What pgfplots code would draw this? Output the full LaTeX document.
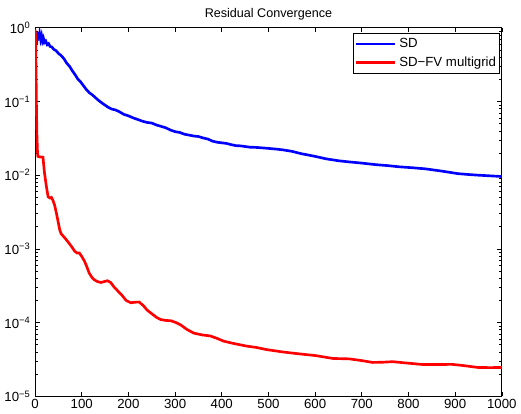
\documentclass[border=0pt]{standalone}
\usepackage{pgfplots}
\pgfplotsset{compat=1.18}
\usepackage{fontspec}
\setmainfont{Liberation Sans}

\begin{document}
\begin{tikzpicture}
  \begin{semilogyaxis}[
    scale only axis,
    width=352.5pt, height=278.25pt,
    xmin=0, xmax=1000, ymin=1e-5, ymax=1,
    xtick={0,100,...,1000},
    ytick={1e-5,1e-4,1e-3,1e-2,1e-1,1},
    yticklabels={10\textsuperscript{−5},10\textsuperscript{−4},10\textsuperscript{−3},10\textsuperscript{−2},10\textsuperscript{−1},10\textsuperscript{0}},
    /pgf/number format/assume math mode=true,
    /pgf/number format/1000 sep={},
    tick label style={font=\fontsize{10}{12}\selectfont},
    xticklabel style={yshift=1pt},
    title={Residual Convergence},
    title style={font=\fontsize{9.5}{11}\selectfont, yshift=-4pt},
    axis line style={line width=0.6pt},
    major tick length=3.5pt, minor tick length=2pt,
    every tick/.style={black, line width=0.5pt},
    legend cell align=left,
    legend style={at={(0.9955,0.987)}, anchor=north east,
      font=\fontsize{10}{12}\selectfont, draw=black, line width=0.6pt,
      inner xsep=0.5pt, inner ysep=2pt, row sep=1.5pt},
    legend image code/.code={\draw[#1] (0cm,0cm) -- (1.05cm,0cm);},
  ]
    \coordinate (topleft) at (rel axis cs:0,1);
    \addplot[blue, line width=2pt] coordinates {
      (1,0.55)(2,0.80)(3,0.60)(4,0.86)(5,0.66)(6,0.88)(7,0.70)(8,0.85)
      (9,0.72)(10,0.82)(12,0.69)(14,0.78)(16,0.66)(18,0.72)(20,0.63)
      (23,0.66)(26,0.59)(29,0.61)(32,0.56)(36,0.55)(40,0.51)(45,0.49)
      (50,0.45)(56,0.42)(62,0.38)(68,0.33)(74,0.30)(80,0.26)(86,0.23)
      (92,0.20)(98,0.183)(104,0.163)(110,0.145)(116,0.132)(122,0.124)
      (128,0.115)(134,0.106)(140,0.099)(148,0.091)(156,0.084)(164,0.079)
      (172,0.077)(180,0.073)(190,0.067)(200,0.064)(210,0.060)(220,0.057)
      (230,0.054)(240,0.052)(250,0.051)(260,0.048)(270,0.046)(280,0.044)
      (290,0.041)(300,0.039)(310,0.038)(320,0.036)(330,0.035)(340,0.034)
      (350,0.0335)(360,0.032)(370,0.031)(380,0.029)(390,0.028)(400,0.0275)
      (410,0.027)(420,0.026)(430,0.0252)(440,0.025)(450,0.0245)(460,0.024)
      (475,0.0238)(490,0.0234)(500,0.0231)(517,0.0226)(530,0.0221)
      (550,0.0211)(570,0.0196)(585,0.0188)(600,0.0180)(623,0.0167)
      (650,0.0157)(675,0.0151)(700,0.0146)(730,0.0139)(755,0.0135)
      (780,0.0130)(810,0.0126)(836,0.0122)(870,0.0114)(906,0.0105)
      (930,0.0102)(950,0.0100)(975,0.0098)(1000,0.0096)
    };
    \addlegendentry{SD}
    \addplot[red, line width=2pt] coordinates {
      (0,0.95)(1,0.80)(2,0.30)(3,0.08)(4,0.035)(5,0.022)(6,0.018)
      (10,0.0177)(14,0.0177)(17,0.0175)(20,0.011)(24,0.0072)(28,0.0051)
      (32,0.0049)(35,0.0050)(38,0.0046)(42,0.0039)(46,0.0030)(49,0.0024)
      (53,0.0018)(56,0.0016)(60,0.0015)(65,0.00138)(70,0.00126)(78,0.00108)
      (85,0.00093)(90,0.00088)(95,0.00088)(100,0.00079)(106,0.00068)
      (111,0.00057)(116,0.00047)(122,0.00041)(127,0.00038)(134,0.00036)
      (141,0.00035)(148,0.00036)(155,0.00037)(162,0.00035)(170,0.00030)
      (177,0.00027)(185,0.00024)(195,0.00020)(205,0.000186)(214,0.000189)
      (223,0.000190)(232,0.000170)(240,0.000148)(250,0.000132)(260,0.000118)
      (269,0.000110)(280,0.000107)(291,0.000106)(302,0.000100)(312,0.000093)
      (325,0.000081)(340,0.000072)(358,0.000068)(375,0.000066)(390,0.000061)
      (404,0.000056)(420,0.000053)(432,0.000051)(453,0.000048)(474,0.000046)
      (496,0.0000430)(530,0.0000400)(560,0.0000380)(602,0.0000356)
      (638,0.0000326)(655,0.0000324)(673,0.0000322)(700,0.0000305)
      (723,0.0000288)(745,0.0000290)(766,0.0000295)(790,0.0000285)
      (830,0.0000270)(860,0.0000270)(894,0.0000271)(920,0.0000260)
      (949,0.0000246)(975,0.0000245)(1000,0.0000246)
    };
    \addlegendentry{SD−FV multigrid}
  \end{semilogyaxis}
  \path (topleft) ++(0,21pt);
\end{tikzpicture}
\end{document}
